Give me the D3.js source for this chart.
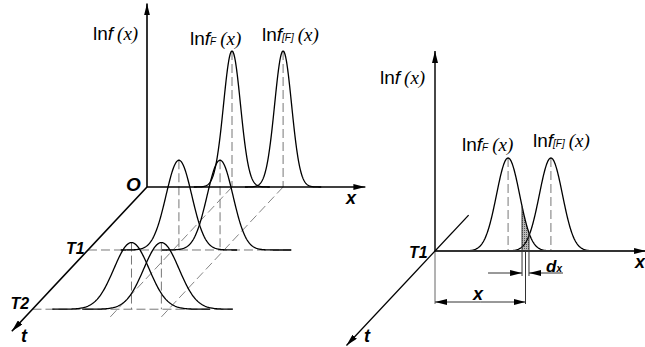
<!DOCTYPE html>
<html>
<head>
<meta charset="utf-8">
<script src="https://cdn.jsdelivr.net/npm/d3@7"></script>
<style>
  body { margin: 0; background: #fff; }
  svg { display: block; background: #fff; }
  text { font-family: "Liberation Sans", Arial, sans-serif; fill: #000; }
  .lab { font-style: italic; font-weight: bold; }
  .arg { font-family: "Liberation Serif", "DejaVu Serif", serif; font-style: italic; }
</style>
</head>
<body>
<svg id="chart" width="645" height="347"></svg>
<script>
// left plot: distributions at three moments of time
var tLevels = [0, 1, 1.94];
var tNames = ["", "T1", "T2"];
var muF = [4.01, 4.29, 4.67];     // peak of f_F
var muFF = [6.42, 6.23, 6.08];    // peak of f_[F]
var sigma = [0.40, 0.61, 0.83];
var peak = [1, 0.66, 0.49];
var lineEnd = [0, 9.6, 9.45];

// right plot: the slice at T1 with the strip dx
var muR = [3.48, 5.52];
var sigmaR = 0.55;
var peakR = 0.93;
var stripX = 4.31, stripDx = 0.33;

var svg = d3.select("#chart");
var defs = svg.append("defs");

defs.append("marker")
  .attr("id", "arr")
  .attr("viewBox", "0 0 10 10")
  .attr("refX", 10).attr("refY", 5)
  .attr("markerUnits", "userSpaceOnUse")
  .attr("markerWidth", 12).attr("markerHeight", 6)
  .attr("preserveAspectRatio", "none")
  .attr("orient", "auto")
  .append("path").attr("d", "M0,0L10,5L0,10Z").attr("fill", "#000");

var hatch = defs.append("pattern")
  .attr("id", "hatch")
  .attr("patternUnits", "userSpaceOnUse")
  .attr("width", 2).attr("height", 2);
hatch.append("rect").attr("width", 2).attr("height", 2).attr("fill", "#bbb");
hatch.append("rect").attr("width", 1).attr("height", 1).attr("fill", "#555");

function gauss(v, mu, s, h) {
  return h * Math.exp(-0.5 * Math.pow((v - mu) / s, 2));
}

var line = d3.line();
var ux = -0.684, uy = 0.730;   // direction of the t axis

// ---------- left plot ----------
var O = [147, 187];
var x = d3.scaleLinear().domain([0, 10]).range([0, 212]);
var y = d3.scaleLinear().domain([0, 1]).range([0, 136]);
var t = d3.scaleLinear().domain([0, 1]).range([0, 86.3]);

function P(xv, tv, yv) {
  var d = t(tv);
  return [O[0] + x(xv) + d * ux, O[1] + d * uy - y(yv || 0)];
}

var gL = svg.append("g");

// dashed baselines of T1, T2
tLevels.forEach(function (tv, i) {
  if (i === 0) return;
  gL.append("path")
    .attr("d", line([P(0, tv), P(lineEnd[i], tv)]))
    .attr("stroke", "#777").attr("stroke-width", 1)
    .attr("stroke-dasharray", "9,4").attr("fill", "none");
});

// dashed lines along t from the first peaks
[muF[0], muFF[0]].forEach(function (m) {
  gL.append("path")
    .attr("d", line([P(m, 0), P(m, 2.1)]))
    .attr("stroke", "#777").attr("stroke-width", 0.9)
    .attr("stroke-dasharray", "9,4").attr("fill", "none");
});

// vertical dashed lines at the peaks
tLevels.forEach(function (tv, i) {
  [muF[i], muFF[i]].forEach(function (m) {
    gL.append("path")
      .attr("d", line([P(m, tv, peak[i]), P(m, tv, 0)]))
      .attr("stroke", "#777").attr("stroke-width", 1)
      .attr("stroke-dasharray", "9,4").attr("fill", "none");
  });
});

// curves
tLevels.forEach(function (tv, i) {
  [muF[i], muFF[i]].forEach(function (m, k) {
    var s = sigma[i];
    var hi = (k === 1 && lineEnd[i] > 0) ? lineEnd[i] : m + 4.5 * s;
    var pts = d3.range(m - 4.5 * s, hi, s / 25).map(function (v) {
      return P(v, tv, gauss(v, m, s, peak[i]));
    });
    gL.append("path").attr("d", line(pts))
      .attr("stroke", "#000").attr("stroke-width", 1.3).attr("fill", "none");
  });
});

// axes
gL.append("path").attr("d", line([P(0, 0), P(0, 0, 1.35)]))
  .attr("stroke", "#000").attr("stroke-width", 1.6).attr("marker-end", "url(#arr)");
gL.append("path").attr("d", line([P(0, 0), P(10.3, 0)]))
  .attr("stroke", "#000").attr("stroke-width", 1.6).attr("marker-end", "url(#arr)");
gL.append("path").attr("d", line([P(0, 0), P(0, 2.29)]))
  .attr("stroke", "#000").attr("stroke-width", 1.6).attr("marker-end", "url(#arr)");

// ---------- right plot ----------
var R = [435, 251];
var xr = d3.scaleLinear().domain([0, 10]).range([0, 210]);
var yr = d3.scaleLinear().domain([0, 1]).range([0, 100]);

function Q(xv, yv) { return [R[0] + xr(xv), R[1] - yr(yv || 0)]; }
function QT(tv) { var d = t(tv); return [R[0] + d * ux, R[1] + d * uy]; }

var gR = svg.append("g");

// hatched strip under f_F
var s0 = stripX - stripDx / 2, s1 = stripX + stripDx / 2;
var strip = d3.range(s0, s1 + 1e-9, stripDx / 10).map(function (v) {
  return Q(v, gauss(v, muR[0], sigmaR, peakR));
});
strip.push(Q(s1, 0), Q(s0, 0));
gR.append("path").attr("d", line(strip) + "Z").attr("fill", "url(#hatch)");

// vertical dashed at peaks
muR.forEach(function (m) {
  gR.append("path").attr("d", line([Q(m, peakR), Q(m, 0)]))
    .attr("stroke", "#777").attr("stroke-width", 1)
    .attr("stroke-dasharray", "9,4").attr("fill", "none");
});

// curves
muR.forEach(function (m) {
  var pts = d3.range(m - 4.2 * sigmaR, m + 4.2 * sigmaR, sigmaR / 25).map(function (v) {
    return Q(v, gauss(v, m, sigmaR, peakR));
  });
  gR.append("path").attr("d", line(pts))
    .attr("stroke", "#000").attr("stroke-width", 1.3).attr("fill", "none");
});

// extension lines
var dimY = R[1] + 51, dxY = R[1] + 22;
gR.append("path").attr("d", line([Q(0), [R[0], dimY + 2]]))
  .attr("stroke", "#666").attr("stroke-width", 1);
gR.append("path").attr("d", line([Q(stripX), [Q(stripX)[0], dimY + 2]]))
  .attr("stroke", "#333").attr("stroke-width", 1);
[s0, s1].forEach(function (v) {
  gR.append("path")
    .attr("d", line([Q(v, gauss(v, muR[0], sigmaR, peakR)), [Q(v)[0], dxY + 3]]))
    .attr("stroke", "#333").attr("stroke-width", 1);
});

// dimension x
var xa = Q(0)[0], xb = Q(stripX)[0], xm = (xa + xb) / 2;
gR.append("path").attr("d", line([[xm, dimY], [xa, dimY]]))
  .attr("stroke", "#333").attr("stroke-width", 1).attr("marker-end", "url(#arr)");
gR.append("path").attr("d", line([[xm, dimY], [xb, dimY]]))
  .attr("stroke", "#333").attr("stroke-width", 1).attr("marker-end", "url(#arr)");

// dimension dx
var da = Q(s0)[0], db = Q(s1)[0];
gR.append("path").attr("d", line([[da - 34, dxY], [da, dxY]]))
  .attr("stroke", "#333").attr("stroke-width", 1).attr("marker-end", "url(#arr)");
gR.append("path").attr("d", line([[db + 34, dxY], [db, dxY]]))
  .attr("stroke", "#333").attr("stroke-width", 1).attr("marker-end", "url(#arr)");

// axes
gR.append("path").attr("d", line([Q(0), Q(0, 2.0)]))
  .attr("stroke", "#333").attr("stroke-width", 1.8).attr("marker-end", "url(#arr)");
gR.append("path").attr("d", line([Q(0), Q(10.05)]))
  .attr("stroke", "#333").attr("stroke-width", 1.8).attr("marker-end", "url(#arr)");
gR.append("path").attr("d", line([QT(-0.57), QT(1.5)]))
  .attr("stroke", "#000").attr("stroke-width", 1.3).attr("marker-end", "url(#arr)");

// ---------- labels ----------
function fLabel(px, py, sub) {
  var tx = svg.append("text").attr("x", px).attr("y", py).attr("font-size", 19);
  tx.append("tspan").text("ln");
  tx.append("tspan").attr("font-style", "italic").text("f");
  if (sub) tx.append("tspan").attr("font-size", 10).attr("font-style", "italic").text(sub);
  tx.append("tspan").attr("class", "arg").attr("dx", 4).text("(x)");
}
fLabel(93, 40, "");
fLabel(190, 45, "F");
fLabel(262, 41, "[F]");
fLabel(380, 84, "");
fLabel(462, 151, "F");
fLabel(533, 147, "[F]");

function lab(px, py, s, size) {
  svg.append("text").attr("class", "lab").attr("x", px).attr("y", py)
    .attr("font-size", size).text(s);
}
lab(126, 191, "O", 19);
lab(346, 204, "x", 18);
lab(21, 342, "t", 18);
tLevels.forEach(function (tv, i) {
  if (!tNames[i]) return;
  var p = P(0, tv);
  lab(p[0] - 22, p[1] + (i === 1 ? 4 : 0), tNames[i], 16);
});
lab(409, 258, "T1", 16);
lab(364, 342, "t", 18);
lab(473, 300, "x", 18);
lab(635, 268, "x", 18);
var dl = svg.append("text").attr("class", "lab").attr("x", 546).attr("y", 272).attr("font-size", 17);
dl.append("tspan").text("d");
dl.append("tspan").attr("font-size", 10).text("x");
</script>
</body>
</html>
